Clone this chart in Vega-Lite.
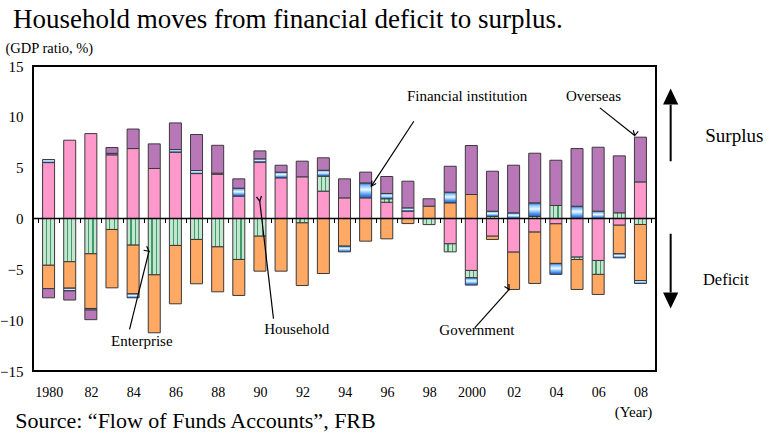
{
  "$schema": "https://vega.github.io/schema/vega-lite/v6.json",
  "width": 623,
  "height": 305,
  "autosize": "none",
  "padding": {"left": 33, "top": 66, "right": 115, "bottom": 63},
  "background": "white",
  "title": {
    "text": "Household moves from financial deficit to surplus.",
    "anchor": "start",
    "frame": "group",
    "dx": -20,
    "offset": 6,
    "font": "Liberation Serif",
    "fontSize": 27,
    "fontWeight": "normal",
    "color": "black"
  },
  "datasets": {
    "flows": [
      {"year": 1980, "sector": "Household", "value": 5.5},
      {"year": 1980, "sector": "Financial institution", "value": 0.3},
      {"year": 1980, "sector": "Enterprise", "value": -4.6},
      {"year": 1980, "sector": "Government", "value": -2.3},
      {"year": 1980, "sector": "Overseas", "value": -0.9},
      {"year": 1981, "sector": "Household", "value": 7.7},
      {"year": 1981, "sector": "Enterprise", "value": -4.25},
      {"year": 1981, "sector": "Government", "value": -2.6},
      {"year": 1981, "sector": "Financial institution", "value": -0.27},
      {"year": 1981, "sector": "Overseas", "value": -0.9},
      {"year": 1982, "sector": "Household", "value": 8.35},
      {"year": 1982, "sector": "Enterprise", "value": -3.47},
      {"year": 1982, "sector": "Government", "value": -5.38},
      {"year": 1982, "sector": "Financial institution", "value": -0.15},
      {"year": 1982, "sector": "Overseas", "value": -0.95},
      {"year": 1983, "sector": "Household", "value": 6.26},
      {"year": 1983, "sector": "Financial institution", "value": 0.15},
      {"year": 1983, "sector": "Overseas", "value": 0.57},
      {"year": 1983, "sector": "Enterprise", "value": -1.08},
      {"year": 1983, "sector": "Government", "value": -5.74},
      {"year": 1984, "sector": "Household", "value": 6.88},
      {"year": 1984, "sector": "Overseas", "value": 1.92},
      {"year": 1984, "sector": "Enterprise", "value": -2.62},
      {"year": 1984, "sector": "Government", "value": -4.79},
      {"year": 1984, "sector": "Financial institution", "value": -0.39},
      {"year": 1985, "sector": "Household", "value": 4.92},
      {"year": 1985, "sector": "Overseas", "value": 2.42},
      {"year": 1985, "sector": "Enterprise", "value": -5.54},
      {"year": 1985, "sector": "Government", "value": -5.7},
      {"year": 1986, "sector": "Household", "value": 6.52},
      {"year": 1986, "sector": "Financial institution", "value": 0.26},
      {"year": 1986, "sector": "Overseas", "value": 2.62},
      {"year": 1986, "sector": "Enterprise", "value": -2.65},
      {"year": 1986, "sector": "Government", "value": -5.74},
      {"year": 1987, "sector": "Household", "value": 4.42},
      {"year": 1987, "sector": "Financial institution", "value": 0.3},
      {"year": 1987, "sector": "Overseas", "value": 3.54},
      {"year": 1987, "sector": "Enterprise", "value": -2.06},
      {"year": 1987, "sector": "Government", "value": -4.36},
      {"year": 1988, "sector": "Household", "value": 4.36},
      {"year": 1988, "sector": "Financial institution", "value": 0.1},
      {"year": 1988, "sector": "Overseas", "value": 2.74},
      {"year": 1988, "sector": "Enterprise", "value": -2.79},
      {"year": 1988, "sector": "Government", "value": -4.42},
      {"year": 1989, "sector": "Household", "value": 2.2},
      {"year": 1989, "sector": "Financial institution", "value": 0.78},
      {"year": 1989, "sector": "Overseas", "value": 0.92},
      {"year": 1989, "sector": "Enterprise", "value": -4.03},
      {"year": 1989, "sector": "Government", "value": -3.54},
      {"year": 1990, "sector": "Household", "value": 5.54},
      {"year": 1990, "sector": "Financial institution", "value": 0.33},
      {"year": 1990, "sector": "Overseas", "value": 0.78},
      {"year": 1990, "sector": "Enterprise", "value": -1.74},
      {"year": 1990, "sector": "Government", "value": -3.44},
      {"year": 1991, "sector": "Household", "value": 4.0},
      {"year": 1991, "sector": "Financial institution", "value": 0.56},
      {"year": 1991, "sector": "Overseas", "value": 0.68},
      {"year": 1991, "sector": "Government", "value": -5.18},
      {"year": 1992, "sector": "Household", "value": 4.1},
      {"year": 1992, "sector": "Overseas", "value": 1.54},
      {"year": 1992, "sector": "Enterprise", "value": -0.43},
      {"year": 1992, "sector": "Government", "value": -6.16},
      {"year": 1993, "sector": "Household", "value": 2.69},
      {"year": 1993, "sector": "Enterprise", "value": 1.47},
      {"year": 1993, "sector": "Financial institution", "value": 0.59},
      {"year": 1993, "sector": "Overseas", "value": 1.22},
      {"year": 1993, "sector": "Government", "value": -5.41},
      {"year": 1994, "sector": "Household", "value": 2.03},
      {"year": 1994, "sector": "Overseas", "value": 1.87},
      {"year": 1994, "sector": "Government", "value": -2.72},
      {"year": 1994, "sector": "Financial institution", "value": -0.56},
      {"year": 1995, "sector": "Household", "value": 2.03},
      {"year": 1995, "sector": "Financial institution", "value": 1.47},
      {"year": 1995, "sector": "Overseas", "value": 1.06},
      {"year": 1995, "sector": "Government", "value": -2.23},
      {"year": 1996, "sector": "Household", "value": 1.6},
      {"year": 1996, "sector": "Enterprise", "value": 0.34},
      {"year": 1996, "sector": "Financial institution", "value": 0.52},
      {"year": 1996, "sector": "Overseas", "value": 1.67},
      {"year": 1996, "sector": "Government", "value": -2.0},
      {"year": 1997, "sector": "Household", "value": 0.72},
      {"year": 1997, "sector": "Financial institution", "value": 0.33},
      {"year": 1997, "sector": "Overseas", "value": 2.62},
      {"year": 1997, "sector": "Government", "value": -0.5},
      {"year": 1998, "sector": "Government", "value": 1.21},
      {"year": 1998, "sector": "Overseas", "value": 0.73},
      {"year": 1998, "sector": "Enterprise", "value": -0.6},
      {"year": 1999, "sector": "Government", "value": 1.54},
      {"year": 1999, "sector": "Financial institution", "value": 1.05},
      {"year": 1999, "sector": "Overseas", "value": 2.55},
      {"year": 1999, "sector": "Household", "value": -2.49},
      {"year": 1999, "sector": "Enterprise", "value": -0.79},
      {"year": 2000, "sector": "Government", "value": 2.36},
      {"year": 2000, "sector": "Overseas", "value": 4.82},
      {"year": 2000, "sector": "Household", "value": -5.11},
      {"year": 2000, "sector": "Enterprise", "value": -0.72},
      {"year": 2000, "sector": "Financial institution", "value": -0.72},
      {"year": 2001, "sector": "Enterprise", "value": 0.2},
      {"year": 2001, "sector": "Financial institution", "value": 0.52},
      {"year": 2001, "sector": "Overseas", "value": 3.93},
      {"year": 2001, "sector": "Household", "value": -1.74},
      {"year": 2001, "sector": "Government", "value": -0.32},
      {"year": 2002, "sector": "Financial institution", "value": 0.56},
      {"year": 2002, "sector": "Overseas", "value": 4.68},
      {"year": 2002, "sector": "Household", "value": -3.31},
      {"year": 2002, "sector": "Government", "value": -3.67},
      {"year": 2003, "sector": "Enterprise", "value": 0.2},
      {"year": 2003, "sector": "Financial institution", "value": 1.34},
      {"year": 2003, "sector": "Overseas", "value": 4.88},
      {"year": 2003, "sector": "Household", "value": -1.34},
      {"year": 2003, "sector": "Government", "value": -5.05},
      {"year": 2004, "sector": "Enterprise", "value": 1.28},
      {"year": 2004, "sector": "Overseas", "value": 4.45},
      {"year": 2004, "sector": "Household", "value": -0.52},
      {"year": 2004, "sector": "Government", "value": -3.9},
      {"year": 2004, "sector": "Financial institution", "value": -1.08},
      {"year": 2005, "sector": "Financial institution", "value": 1.21},
      {"year": 2005, "sector": "Overseas", "value": 5.67},
      {"year": 2005, "sector": "Household", "value": -3.8},
      {"year": 2005, "sector": "Enterprise", "value": -0.23},
      {"year": 2005, "sector": "Government", "value": -2.95},
      {"year": 2006, "sector": "Financial institution", "value": 0.72},
      {"year": 2006, "sector": "Overseas", "value": 6.29},
      {"year": 2006, "sector": "Household", "value": -4.13},
      {"year": 2006, "sector": "Enterprise", "value": -1.37},
      {"year": 2006, "sector": "Government", "value": -1.97},
      {"year": 2007, "sector": "Enterprise", "value": 0.56},
      {"year": 2007, "sector": "Overseas", "value": 5.6},
      {"year": 2007, "sector": "Household", "value": -0.66},
      {"year": 2007, "sector": "Government", "value": -2.81},
      {"year": 2007, "sector": "Financial institution", "value": -0.4},
      {"year": 2008, "sector": "Household", "value": 3.6},
      {"year": 2008, "sector": "Overseas", "value": 4.4},
      {"year": 2008, "sector": "Enterprise", "value": -0.59},
      {"year": 2008, "sector": "Government", "value": -5.51},
      {"year": 2008, "sector": "Financial institution", "value": -0.29}
    ],
    "labels": [
      {"label": "Financial institution", "year": 1999.8, "value": 12.09},
      {"label": "Overseas", "year": 2005.78, "value": 12.09},
      {"label": "Household", "year": 1991.74, "value": -10.91},
      {"label": "Government", "year": 2000.26, "value": -11.01},
      {"label": "Enterprise", "year": 1984.41, "value": -12.0}
    ],
    "pointers": [
      {"label": "Financial institution", "year": 1997.28, "value": 9.57, "year2": 1995.27, "value2": 3.18},
      {"label": "Overseas", "year": 2006.08, "value": 10.88, "year2": 2007.73, "value2": 8.16},
      {"label": "Household", "year": 1990.64, "value": -9.86, "year2": 1989.99, "value2": 1.7},
      {"label": "Government", "year": 2000.16, "value": -10.75, "year2": 2001.79, "value2": -6.98},
      {"label": "Enterprise", "year": 1983.83, "value": -10.91, "year2": 1984.75, "value2": -3.22}
    ],
    "sides": [
      {"label": "Surplus", "dir": "up", "year": 2009.43, "value": 5.63, "value2": 11.2, "head": 12.0, "textYear": 2012.44, "textValue": 8.09},
      {"label": "Deficit", "dir": "down", "year": 2009.43, "value": -1.5, "value2": -7.28, "head": -8.06, "textYear": 2012.04, "textValue": -6.07}
    ],
    "source": [
      {"label": "Source: \u201cFlow of Funds Accounts\u201d, FRB", "year": 1978.42, "value": -19.96}
    ]
  },
  "layer": [
    {
      "data": {"name": "flows"},
      "transform": [
        {"calculate": "indexof(['Household','Enterprise','Government','Financial institution','Overseas'], datum.sector)", "as": "k"},
        {"stack": "value", "groupby": ["year"], "sort": [{"field": "k", "order": "ascending"}], "as": ["v0", "v1"], "offset": "zero"}
      ],
      "encoding": {
        "x": {
          "field": "year",
          "type": "quantitative",
          "scale": {"domain": [1979.5, 2008.5], "nice": false, "zero": false},
          "axis": {
            "orient": "bottom",
            "values": [1979.5, 1980.5, 1981.5, 1982.5, 1983.5, 1984.5, 1985.5, 1986.5, 1987.5, 1988.5, 1989.5, 1990.5, 1991.5, 1992.5, 1993.5, 1994.5, 1995.5, 1996.5, 1997.5, 1998.5, 1999.5, 2000.5, 2001.5, 2002.5, 2003.5, 2004.5, 2005.5, 2006.5, 2007.5, 2008.5],
            "labelExpr": "((datum.value + 0.5) % 2 == 0 && datum.value < 2008.6) ? (((datum.value + 0.5) == 1980 || (datum.value + 0.5) == 2000) ? toString(datum.value + 0.5) : substring(toString(datum.value + 0.5), 2)) : ''",
            "labelOffset": 10.74,
            "labelOverlap": false,
            "labelFlush": false,
            "ticks": false,
            "tickSize": 0,
            "domain": false,
            "grid": true,
            "gridColor": "black",
            "gridWidth": 1,
            "gridOpacity": 1,
            "gridDash": [0, 152.5, 4, 2000],
            "labelPadding": 14,
            "labelFont": "Liberation Serif",
            "labelFontSize": 14,
            "labelColor": "black",
            "title": "(Year)",
            "titleFont": "Liberation Serif",
            "titleFontSize": 15,
            "titleFontWeight": "normal",
            "titleColor": "black",
            "titleAlign": "center",
            "titleBaseline": "middle",
            "titleAnchor": "start",
            "titleX": 600,
            "titleY": 40
          }
        },
        "y": {
          "field": "v0",
          "type": "quantitative",
          "scale": {"domain": [-15, 15], "nice": false},
          "axis": {
            "values": [-15, -10, -5, 0, 5, 10, 15],
            "ticks": false,
            "tickSize": 0,
            "domain": false,
            "grid": false,
            "labelPadding": 10,
            "labelFont": "Liberation Serif",
            "labelFontSize": 15,
            "labelColor": "black",
            "title": "(GDP ratio, %)",
            "titleFont": "Liberation Serif",
            "titleFontSize": 14.5,
            "titleFontWeight": "normal",
            "titleColor": "black",
            "titleAngle": 0,
            "titleAlign": "left",
            "titleBaseline": "middle",
            "titleX": -28,
            "titleY": -18
          }
        },
        "y2": {"field": "v1"}
      },
      "layer": [
        {
          "transform": [{"filter": "datum.sector === 'Household'"}],
          "mark": {"type": "bar", "width": 12, "fill": "#FF99CC", "stroke": "#3a3a3a", "strokeWidth": 1}
        },
        {
          "transform": [{"filter": "datum.sector === 'Enterprise'"}],
          "mark": {
            "type": "bar", "width": 12, "stroke": "#3a3a3a", "strokeWidth": 1,
            "fill": {
              "gradient": "linear", "x1": 0, "y1": 0, "x2": 1, "y2": 0,
              "stops": [
                {"offset": 0, "color": "#c4e6d0"},
                {"offset": 0.27, "color": "#c4e6d0"},
                {"offset": 0.27, "color": "#3f9c68"},
                {"offset": 0.37, "color": "#3f9c68"},
                {"offset": 0.37, "color": "#c4e6d0"},
                {"offset": 0.63, "color": "#c4e6d0"},
                {"offset": 0.63, "color": "#3f9c68"},
                {"offset": 0.73, "color": "#3f9c68"},
                {"offset": 0.73, "color": "#c4e6d0"},
                {"offset": 1, "color": "#c4e6d0"}
              ]
            }
          }
        },
        {
          "transform": [{"filter": "datum.sector === 'Government'"}],
          "mark": {"type": "bar", "width": 12, "fill": "#FFA964", "stroke": "#3a3a3a", "strokeWidth": 1}
        },
        {
          "transform": [{"filter": "datum.sector === 'Financial institution'"}],
          "mark": {
            "type": "bar", "width": 12, "stroke": "#3a3a3a", "strokeWidth": 1,
            "fill": {
              "gradient": "linear", "x1": 0, "y1": 0, "x2": 0, "y2": 1,
              "stops": [
                {"offset": 0, "color": "#2f63d0"},
                {"offset": 0.2, "color": "#8ccaff"},
                {"offset": 0.45, "color": "#eef8ff"},
                {"offset": 0.6, "color": "#9fd4ff"},
                {"offset": 0.8, "color": "#4d8ef0"},
                {"offset": 1, "color": "#2a5cc0"}
              ]
            }
          }
        },
        {
          "transform": [{"filter": "datum.sector === 'Overseas'"}],
          "mark": {"type": "bar", "width": 12, "fill": "#B878B8", "stroke": "#3a3a3a", "strokeWidth": 1}
        }
      ]
    },
    {
      "data": {"values": [{}]},
      "mark": {"type": "rule", "color": "black", "strokeWidth": 1.5},
      "encoding": {
        "y": {"datum": 0, "type": "quantitative", "scale": {"domain": [-15, 15], "nice": false}, "axis": null}
      }
    },
    {
      "data": {"name": "pointers"},
      "mark": {"type": "rule", "color": "black", "strokeWidth": 1.2},
      "encoding": {
        "x": {"field": "year", "type": "quantitative", "scale": {"domain": [1979.5, 2008.5], "nice": false, "zero": false}, "axis": null},
        "y": {"field": "value", "type": "quantitative", "scale": {"domain": [-15, 15], "nice": false}, "axis": null},
        "x2": {"field": "year2"},
        "y2": {"field": "value2"}
      }
    },
    {
      "data": {"name": "pointers"},
      "mark": {"type": "point", "filled": false, "stroke": "black", "strokeWidth": 1.2, "size": 72, "opacity": 1,
               "shape": "M-0.6,1.15L0,0L0.6,1.15"},
      "encoding": {
        "x": {"field": "year2", "type": "quantitative", "scale": {"domain": [1979.5, 2008.5], "nice": false, "zero": false}, "axis": null},
        "y": {"field": "value2", "type": "quantitative", "scale": {"domain": [-15, 15], "nice": false}, "axis": null},
        "angle": {
          "field": "label", "type": "nominal", "legend": null,
          "scale": {"domain": ["Financial institution", "Overseas", "Household", "Government", "Enterprise"], "range": [213.7, 128.1, 353.2, 42.4, 14.1]}
        }
      }
    },
    {
      "data": {"name": "labels"},
      "mark": {"type": "text", "font": "Liberation Serif", "fontSize": 15, "color": "black", "align": "center", "baseline": "middle"},
      "encoding": {
        "x": {"field": "year", "type": "quantitative", "scale": {"domain": [1979.5, 2008.5], "nice": false, "zero": false}, "axis": null},
        "y": {"field": "value", "type": "quantitative", "scale": {"domain": [-15, 15], "nice": false}, "axis": null},
        "text": {"field": "label"}
      }
    },
    {
      "data": {"name": "sides"},
      "mark": {"type": "rule", "color": "black", "strokeWidth": 2},
      "encoding": {
        "x": {"field": "year", "type": "quantitative", "scale": {"domain": [1979.5, 2008.5], "nice": false, "zero": false}, "axis": null},
        "y": {"field": "value", "type": "quantitative", "scale": {"domain": [-15, 15], "nice": false}, "axis": null},
        "y2": {"field": "value2"}
      }
    },
    {
      "data": {"name": "sides"},
      "mark": {"type": "point", "filled": true, "fill": "black", "stroke": null, "size": 256, "opacity": 1},
      "encoding": {
        "x": {"field": "year", "type": "quantitative", "scale": {"domain": [1979.5, 2008.5], "nice": false, "zero": false}, "axis": null},
        "y": {"field": "head", "type": "quantitative", "scale": {"domain": [-15, 15], "nice": false}, "axis": null},
        "shape": {
          "field": "dir", "type": "nominal", "legend": null,
          "scale": {"domain": ["up", "down"], "range": ["M0,-1L0.95,1L-0.95,1Z", "M0,1L0.95,-1L-0.95,-1Z"]}
        }
      }
    },
    {
      "data": {"name": "sides"},
      "mark": {"type": "text", "font": "Liberation Serif", "color": "black", "align": "center", "baseline": "middle"},
      "encoding": {
        "x": {"field": "textYear", "type": "quantitative", "scale": {"domain": [1979.5, 2008.5], "nice": false, "zero": false}, "axis": null},
        "y": {"field": "textValue", "type": "quantitative", "scale": {"domain": [-15, 15], "nice": false}, "axis": null},
        "text": {"field": "label"},
        "size": {"field": "label", "type": "nominal", "legend": null, "scale": {"domain": ["Surplus", "Deficit"], "range": [19, 16.5]}}
      }
    },
    {
      "data": {"name": "source"},
      "mark": {"type": "text", "font": "Liberation Serif", "fontSize": 22, "color": "black", "align": "left", "baseline": "middle"},
      "encoding": {
        "x": {"field": "year", "type": "quantitative", "scale": {"domain": [1979.5, 2008.5], "nice": false, "zero": false}, "axis": null},
        "y": {"field": "value", "type": "quantitative", "scale": {"domain": [-15, 15], "nice": false}, "axis": null},
        "text": {"field": "label"}
      }
    }
  ],
  "resolve": {"axis": {"x": "independent", "y": "independent"}},
  "config": {
    "view": {"stroke": "black", "strokeWidth": 2},
    "font": "Liberation Serif"
  }
}
